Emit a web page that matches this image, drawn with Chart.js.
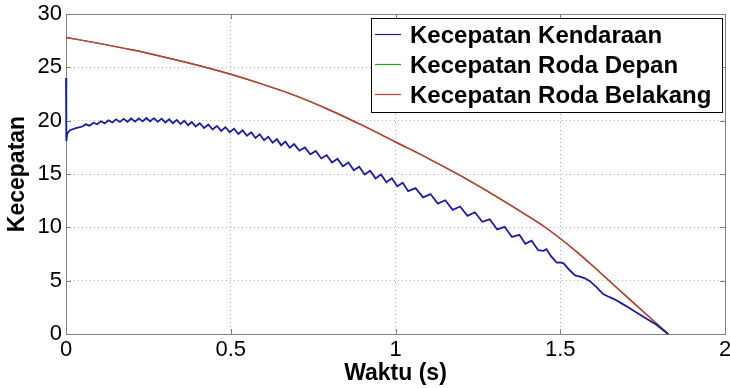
<!DOCTYPE html>
<html>
<head>
<meta charset="utf-8">
<script src="https://cdn.jsdelivr.net/npm/chart.js@4"></script>
<style>
  html, body { margin: 0; padding: 0; background: #fff; }
  canvas { display: block; }
</style>
</head>
<body>
<canvas id="speedChart" width="730" height="388"></canvas>
<script>
// series labels + colours
const seriesLabels = ['Kecepatan Kendaraan', 'Kecepatan Roda Depan', 'Kecepatan Roda Belakang'];
const seriesColors = ['#1c1c9c', '#2e9a2e', '#c83a3a'];

// axis ticks
const xTicks = [0, 0.5, 1, 1.5, 2];
const yTicks = [0, 5, 10, 15, 20, 25, 30];

// vehicle speed [t, v]
const vehicleSpeed = [
  [0, 24.0], [0.001, 18.1], [0.004, 18.8], [0.012, 19.1], [0.03, 19.3], [0.05, 19.45],
  [0.06, 19.66], [0.0715, 19.53], [0.083, 19.81], [0.0945, 19.66], [0.106, 19.94], [0.1175, 19.75],
  [0.129, 20.04], [0.1405, 19.83], [0.152, 20.13], [0.1635, 19.88], [0.175, 20.17], [0.1865, 19.9],
  [0.198, 20.2], [0.2095, 19.91], [0.221, 20.22], [0.2325, 19.93], [0.244, 20.25], [0.2555, 19.94],
  [0.267, 20.24], [0.2785, 19.89], [0.29, 20.19], [0.3015, 19.83], [0.313, 20.13], [0.3245, 19.76],
  [0.336, 20.07], [0.3475, 19.68], [0.359, 19.99], [0.3705, 19.57], [0.382, 19.87], [0.3935, 19.45],
  [0.406, 19.76], [0.419, 19.31], [0.432, 19.64], [0.445, 19.17], [0.458, 19.51], [0.471, 19.04],
  [0.484, 19.39], [0.497, 18.91], [0.51, 19.25], [0.523, 18.75], [0.536, 19.09], [0.549, 18.59],
  [0.562, 18.92], [0.575, 18.38], [0.588, 18.72], [0.601, 18.17], [0.614, 18.49], [0.627, 17.93],
  [0.64, 18.27], [0.653, 17.69], [0.666, 18.03], [0.679, 17.46], [0.692, 17.8],
  [0.7085, 17.19], [0.725, 17.49], [0.7415, 16.84], [0.758, 17.15], [0.7745, 16.46], [0.791, 16.76],
  [0.8075, 16.07], [0.824, 16.42], [0.8405, 15.73], [0.857, 16.08], [0.8735, 15.36], [0.89, 15.69],
  [0.9065, 14.95], [0.923, 15.31], [0.9395, 14.59], [0.956, 14.95], [0.9725, 14.23], [0.989, 14.6],
  [1.0055, 13.85], [1.022, 14.18], [1.0385, 13.39],
  [1.061, 13.67], [1.0835, 12.81], [1.106, 13.12], [1.1285, 12.23], [1.151, 12.54], [1.1735, 11.64],
  [1.196, 11.95], [1.2185, 11.07], [1.241, 11.41], [1.2635, 10.52], [1.286, 10.75], [1.3085, 9.8],
  [1.331, 10.05], [1.3535, 9.1], [1.376, 9.3], [1.394, 8.45], [1.413, 8.75], [1.433, 7.85],
  [1.449, 7.8], [1.458, 7.95], [1.472, 7.3], [1.489, 6.7], [1.5, 6.72], [1.51, 6.62],
  [1.528, 6.0], [1.545, 5.5], [1.56, 5.38], [1.575, 5.22], [1.59, 4.95], [1.61, 4.4],
  [1.63, 3.75], [1.65, 3.45], [1.665, 3.25], [1.69, 2.8], [1.712, 2.4], [1.752, 1.62],
  [1.793, 0.84], [1.827, 0]
];

// wheel speeds (front lies under the rear one)
const wheelTime = [0, 0.1, 0.2, 0.3, 0.4, 0.5, 0.6, 0.7, 0.8, 0.9, 1.0, 1.1, 1.2, 1.3, 1.4, 1.45, 1.5, 1.55, 1.6, 1.65, 1.7, 1.75, 1.8, 1.828];
const frontWheel = [27.8, 27.25, 26.65, 25.95, 25.2, 24.35, 23.38, 22.3, 21.0, 19.55, 18.0, 16.45, 14.8, 13.0, 11.1, 10.1, 8.95, 7.7, 6.35, 4.95, 3.55, 2.15, 0.78, 0];
const rearWheel = [27.8, 27.25, 26.65, 25.95, 25.2, 24.35, 23.38, 22.3, 21.0, 19.55, 18.0, 16.45, 14.8, 13.0, 11.1, 10.1, 8.95, 7.7, 6.35, 4.95, 3.55, 2.15, 0.78, 0];

const FONT = 'Arial, "Liberation Sans", sans-serif';
const BOX_COLOR = '#808080';

// matlab-like box + inner ticks, under the lines
const matlabBox = {
    id: 'matlabBox',
    beforeDatasetsDraw(chart) {
        const ctx = chart.ctx;
        const a = chart.chartArea;
        const xs = chart.scales.x, ys = chart.scales.y;
        ctx.save();
        ctx.strokeStyle = BOX_COLOR;
        ctx.lineWidth = 1;
        ctx.strokeRect(Math.round(a.left) + 0.5, Math.round(a.top) + 0.5,
            Math.round(a.right - a.left), Math.round(a.bottom - a.top));
        ctx.beginPath();
        xTicks.forEach(v => {
            const px = Math.round(xs.getPixelForValue(v)) + 0.5;
            ctx.moveTo(px, a.bottom); ctx.lineTo(px, a.bottom - 5);
            ctx.moveTo(px, a.top); ctx.lineTo(px, a.top + 5);
        });
        yTicks.forEach(v => {
            const py = Math.round(ys.getPixelForValue(v)) + 0.5;
            ctx.moveTo(a.left, py); ctx.lineTo(a.left + 5, py);
            ctx.moveTo(a.right, py); ctx.lineTo(a.right - 5, py);
        });
        ctx.stroke();
        ctx.restore();
    }
};

// boxed legend, top right
const boxLegend = {
    id: 'boxLegend',
    afterDraw(chart) {
        const ctx = chart.ctx;
        const bx = 371, by = 18, bw = 351, bh = 94;
        ctx.save();
        ctx.fillStyle = '#fff';
        ctx.fillRect(bx, by, bw, bh);
        ctx.strokeStyle = '#000';
        ctx.lineWidth = 1;
        ctx.strokeRect(bx + 0.5, by + 0.5, bw, bh);
        ctx.font = 'bold 24px ' + FONT;
        ctx.textBaseline = 'middle';
        chart.data.datasets.forEach((ds, i) => {
            const y = 34 + i * 30;
            ctx.strokeStyle = ds.borderColor;
            ctx.lineWidth = 1.2;
            ctx.beginPath();
            ctx.moveTo(375, y + 0.5); ctx.lineTo(401, y + 0.5);
            ctx.stroke();
            ctx.fillStyle = '#000';
            ctx.fillText(ds.label, 410, y + 2);
        });
        ctx.restore();
    }
};

function toPoints(ts, vs) {
    return ts.map((t, i) => ({ x: t, y: vs[i] }));
}

const ctx = document.getElementById('speedChart');
new Chart(ctx, {
    type: 'line',
    data: {
        datasets: [
            {
                label: seriesLabels[0],
                data: vehicleSpeed.map(p => ({ x: p[0], y: p[1] })),
                borderColor: seriesColors[0],
                borderWidth: 1.8,
                clip: 3,
                order: 0
            },
            {
                label: seriesLabels[1],
                data: toPoints(wheelTime, frontWheel),
                borderColor: seriesColors[1],
                borderWidth: 1.4,
                cubicInterpolationMode: 'monotone',
                clip: 3,
                order: 2
            },
            {
                label: seriesLabels[2],
                data: toPoints(wheelTime, rearWheel),
                borderColor: seriesColors[2],
                borderWidth: 1.4,
                cubicInterpolationMode: 'monotone',
                clip: 3,
                order: 1
            }
        ]
    },
    options: {
        responsive: false,
        animation: false,
        devicePixelRatio: 1,
        elements: { point: { radius: 0 }, line: { tension: 0 } },
        layout: { padding: { left: 0, right: 5, top: 14, bottom: 0 } },
        plugins: {
            legend: { display: false },
            tooltip: { enabled: false }
        },
        scales: {
            x: {
                type: 'linear',
                min: 0,
                max: 2,
                afterBuildTicks: s => { s.ticks = xTicks.map(v => ({ value: v })); },
                afterFit: s => {
                    s.height = 54;
                    s.paddingLeft = 0;
                    s.paddingRight = 0;
                },
                ticks: {
                    color: '#000',
                    font: { family: FONT, size: 22 },
                    padding: 3,
                    maxRotation: 0,
                    callback: v => String(v)
                },
                grid: { color: '#b0b0b0', drawTicks: false },
                border: { display: false, dash: [1, 3] },
                title: {
                    display: true,
                    text: 'Waktu (s)',
                    color: '#000',
                    font: { family: FONT, size: 23, weight: 'bold' },
                    padding: { top: 0, bottom: 1 }
                }
            },
            y: {
                min: 0,
                max: 30,
                afterBuildTicks: s => { s.ticks = yTicks.map(v => ({ value: v })); },
                afterFit: s => {
                    s.width = 66;
                    s.paddingTop = 0;
                    s.paddingBottom = 0;
                },
                ticks: {
                    color: '#000',
                    font: { family: FONT, size: 22 },
                    padding: 4,
                    callback: v => String(v)
                },
                grid: { color: '#b0b0b0', drawTicks: false },
                border: { display: false, dash: [1, 3] },
                title: {
                    display: true,
                    text: 'Kecepatan',
                    color: '#000',
                    font: { family: FONT, size: 23, weight: 'bold' },
                    padding: { top: 4, bottom: 0 }
                }
            }
        }
    },
    plugins: [matlabBox, boxLegend]
});
</script>
</body>
</html>
